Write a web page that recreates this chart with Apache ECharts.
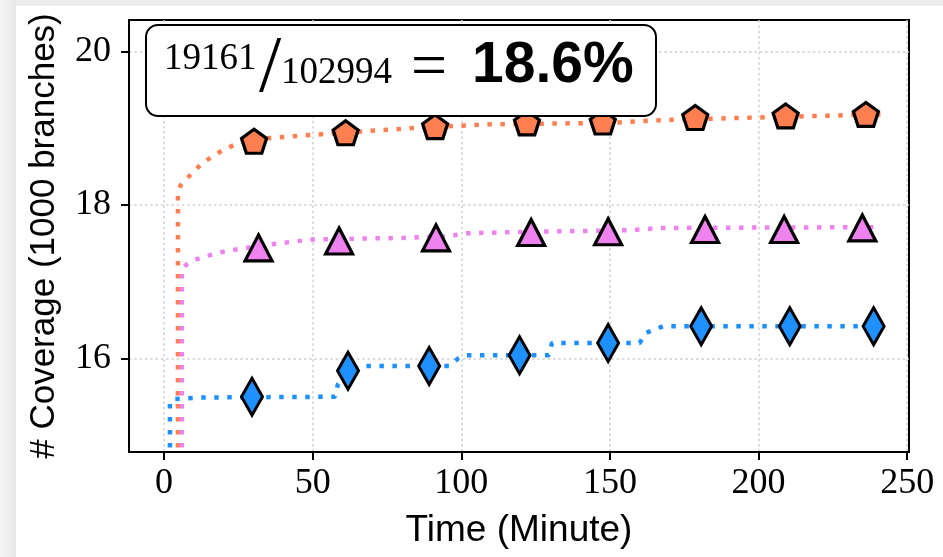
<!DOCTYPE html>
<html>
<head>
<meta charset="utf-8">
<script src="https://cdn.jsdelivr.net/npm/echarts@6/dist/echarts.min.js"></script>
<style>
  html, body { margin: 0; padding: 0; background: #fff; }
  #chart { width: 943px; height: 557px; }
</style>
</head>
<body>
<div id="chart"></div>
<script>
// tick values
const xTicks = [0, 50, 100, 150, 200, 250];
const yTicks = [16, 18, 20];

// dotted curves, [minute, coverage in 1000 branches]
const orangeLine = [[4.7, 14.5], [4.7, 18.16], [5.5, 18.25], [6.7, 18.3], [9.8, 18.43], [13, 18.55], [20, 18.72],
  [26, 18.82], [32, 18.86], [45, 18.9], [60, 18.94], [75, 18.98], [92, 19.02], [110, 19.05], [130, 19.06],
  [150, 19.07], [165, 19.1], [180, 19.12], [210, 19.15], [241, 19.18]];
const violetLine = [[6.0, 14.5], [6.0, 17.16], [7.5, 17.22], [10, 17.28], [15, 17.34], [20, 17.39], [26, 17.43],
  [35, 17.48], [43, 17.52], [50, 17.55], [65, 17.56], [80, 17.57], [96, 17.59], [101, 17.63], [122, 17.65],
  [157, 17.67], [167, 17.7], [239, 17.71]];
const blueLine = [[2, 14.5], [2, 15.43], [3, 15.47], [8, 15.48], [12, 15.49], [57.5, 15.5], [58.5, 15.66],
  [62, 15.82], [66, 15.9], [96, 15.9], [99, 16.0], [101.5, 16.04], [129.5, 16.04], [130.5, 16.2], [160, 16.2],
  [162, 16.33], [168, 16.42], [240, 16.42]];

// markers
const orangeMarks = [[30.3, 18.83], [61.1, 18.94], [91.2, 19.02], [122.1, 19.07], [147.6, 19.08], [178.7, 19.14], [209.1, 19.16], [236.1, 19.18]];
const violetMarks = [[31.8, 17.44], [58.9, 17.53], [91.5, 17.57], [123.5, 17.64], [149.4, 17.65], [182, 17.68], [208.6, 17.68], [234.9, 17.7]];
const blueMarks = [[29.6, 15.5], [61.9, 15.84], [89.2, 15.9], [119.6, 16.04], [149.4, 16.2], [180.7, 16.42], [210.5, 16.42], [238.7, 16.42]];

const pentagon = 'path://M50,0 L97.55,34.55 L79.39,90.45 L20.61,90.45 L2.45,34.55 Z';
const gridStyle = { color: '#cfcfcf', width: 1.5, type: [2.5, 2.8] };

function lineSeries(data, color) {
  return {
    type: 'line', data: data, symbol: 'none', showSymbol: false, silent: true, z: 2,
    lineStyle: { color: color, width: 4.5, type: [4.5, 8.5], cap: 'butt' }
  };
}
function markSeries(data, color, symbol, size) {
  return {
    type: 'scatter', data: data, symbol: symbol, symbolSize: size, z: 3,
    itemStyle: { color: color, borderColor: '#000', borderWidth: 3.2, opacity: 1 }
  };
}

const chart = echarts.init(document.getElementById('chart'));
chart.setOption({
  animation: false,
  backgroundColor: '#fff',
  grid: { left: 129, right: 34, top: 20, bottom: 105, show: true, borderColor: '#000', borderWidth: 2 },
  xAxis: {
    type: 'value', min: -11.77, max: 250.6,
    name: 'Time (Minute)', nameLocation: 'middle', nameGap: 60,
    nameTextStyle: { fontFamily: 'Liberation Sans', fontSize: 37, color: '#000' },
    axisLine: { show: true, onZero: false, lineStyle: { color: '#000', width: 2 } },
    axisTick: { show: true, customValues: xTicks, length: 8, lineStyle: { color: '#000', width: 2 } },
    axisLabel: { customValues: xTicks, fontFamily: 'Liberation Serif', fontSize: 36, color: '#000', margin: 14 },
    splitLine: { show: true, lineStyle: gridStyle }
  },
  yAxis: {
    type: 'value', min: 14.78, max: 20.41,
    name: '# Coverage (1000 branches)', nameLocation: 'middle', nameGap: 67,
    nameTextStyle: { fontFamily: 'Liberation Sans', fontSize: 35, color: '#000' },
    axisLine: { show: true, onZero: false, lineStyle: { color: '#000', width: 2 } },
    axisTick: { show: true, customValues: yTicks, length: 8, lineStyle: { color: '#000', width: 2 } },
    axisLabel: { customValues: yTicks, fontFamily: 'Liberation Serif', fontSize: 36, color: '#000', margin: 18 },
    splitLine: { show: true, lineStyle: gridStyle }
  },
  series: [
    lineSeries(orangeLine, '#ff7f50'),
    lineSeries(violetLine, '#ee82ee'),
    lineSeries(blueLine, '#1e90ff'),
    markSeries(orangeMarks, '#ff7f50', pentagon, [25, 24]),
    markSeries(violetMarks, '#ee82ee', 'triangle', [27, 26]),
    markSeries(blueMarks, '#1e90ff', 'diamond', [21, 37])
  ],
  graphic: [
    { type: 'rect', z: 0, silent: true, shape: { x: 0, y: 0, width: 943, height: 6 }, style: { fill: '#ececec' } },
    { type: 'rect', z: 0, silent: true, shape: { x: 0, y: 0, width: 16, height: 557 },
      style: { fill: new echarts.graphic.LinearGradient(0, 0, 1, 0, [{ offset: 0, color: '#f5f5f5' }, { offset: 1, color: '#e8e8e8' }]) } },
    { type: 'rect', z: 100, shape: { x: 146, y: 25, width: 510, height: 91, r: 12 }, style: { fill: '#fff', stroke: '#000', lineWidth: 2 } },
    { type: 'text', z: 101, x: 164, y: 59, style: { text: '19161', font: '37px "Liberation Serif"', fill: '#000', verticalAlign: 'middle' } },
    { type: 'text', z: 101, x: 259, y: 70, style: { text: '/', font: '80px "Liberation Serif"', fill: '#000', verticalAlign: 'middle' } },
    { type: 'text', z: 101, x: 281, y: 73, style: { text: '102994', font: '37px "Liberation Serif"', fill: '#000', verticalAlign: 'middle' } },
    { type: 'text', z: 101, x: 411, y: 69, style: { text: '=', font: '64px "Liberation Serif"', fill: '#000', verticalAlign: 'middle' } },
    { type: 'text', z: 101, x: 472, y: 66, style: { text: '18.6%', font: 'bold 57px "Liberation Sans"', fill: '#000', verticalAlign: 'middle' } }
  ]
});
</script>
</body>
</html>
